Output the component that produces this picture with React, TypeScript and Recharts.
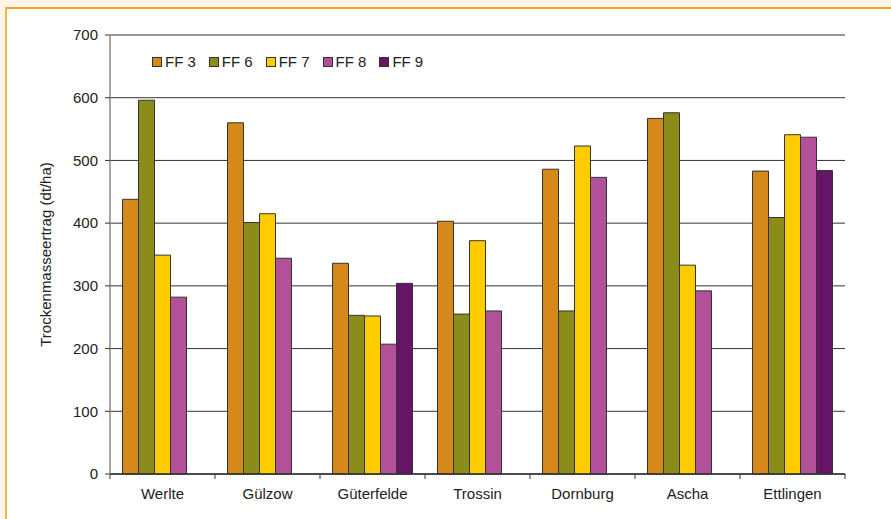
import React from "react";
import { BarChart, Bar, XAxis, YAxis, CartesianGrid, Legend } from "recharts";

const sites = ["Werlte", "Gülzow", "Güterfelde", "Trossin", "Dornburg", "Ascha", "Ettlingen"];
const ff3 = [438, 560, 336, 403, 486, 567, 483];
const ff6 = [596, 401, 253, 255, 260, 576, 409];
const ff7 = [349, 415, 252, 372, 523, 333, 541];
const ff8 = [282, 344, 207, 260, 473, 292, 537];
const ff9 = [null, null, 304, null, null, null, 484];
const yTicks = [0, 100, 200, 300, 400, 500, 600, 700];

const seriesNames = ["FF 3", "FF 6", "FF 7", "FF 8", "FF 9"];
const seriesKeys = ["ff3", "ff6", "ff7", "ff8", "ff9"];
const seriesColors = ["#D4891A", "#8C8C1A", "#FFCC00", "#B25099", "#661466"];

const data = sites.map((site, i) => ({
  site,
  ff3: ff3[i],
  ff6: ff6[i],
  ff7: ff7[i],
  ff8: ff8[i],
  ff9: ff9[i],
}));

const W = 891;
const H = 519;
const M = { top: 35, right: 46, bottom: 15, left: 0 };
const YW = 110;
const BAND = (W - YW - M.right) / sites.length;
const FONT = "'Liberation Sans', Arial, sans-serif";
const TXT = "#222";

const XTick = (props: any) => {
  const { x, y, payload, index } = props;
  return (
    <g>
      <line x1={x - BAND / 2} y1={y} x2={x - BAND / 2} y2={y + 5} stroke="#333" strokeWidth={1} />
      {index === sites.length - 1 && (
        <line x1={x + BAND / 2} y1={y} x2={x + BAND / 2} y2={y + 5} stroke="#333" strokeWidth={1} />
      )}
      <text x={x} y={y + 25} textAnchor="middle" fill={TXT} fontSize={15} fontFamily={FONT}>
        {payload.value}
      </text>
    </g>
  );
};

const LegendContent = (props: any) => {
  const payload = props.payload && props.payload.length
    ? props.payload
    : seriesNames.map((n, i) => ({ value: n, color: seriesColors[i] }));
  return (
    <div style={{ display: "flex", flexDirection: "row", fontFamily: FONT, fontSize: 15, color: TXT, lineHeight: "17px", whiteSpace: "nowrap" }}>
      {payload.map((p: any, i: number) => (
        <div key={i} style={{ display: "flex", alignItems: "center", marginRight: 13 }}>
          <span style={{ display: "inline-block", width: 8, height: 8, background: p.color, border: "1px solid #333", marginRight: 3 }} />
          <span>{p.value}</span>
        </div>
      ))}
    </div>
  );
};

const YLabel = (props: any) => {
  const vb = props.viewBox || { y: M.top, height: H - M.top - M.bottom - 30 };
  const cx = 45;
  const cy = vb.y + vb.height / 2;
  return (
    <text x={cx} y={cy} transform={`rotate(-90, ${cx}, ${cy})`} textAnchor="middle" dominantBaseline="central" fill={TXT} fontSize={15} fontFamily={FONT}>
      Trockenmasseertrag (dt/ha)
    </text>
  );
};

export default function App() {
  return (
    <div style={{ position: "absolute", left: 0, top: 0, width: W, height: H, background: "#FEF4E7", overflow: "hidden" }}>
      <div style={{ position: "absolute", left: 5, top: 7, width: W - 5, height: H - 7, background: "#fff", borderTop: "2px solid #F4A22A", borderLeft: "2px solid #F7B448", boxSizing: "border-box" }} />
      <div style={{ position: "absolute", left: 0, top: 0 }}>
        <BarChart width={W} height={H} data={data} margin={M} barCategoryGap={12.5} barGap={0}>
          <CartesianGrid vertical={false} stroke="#333" strokeWidth={1} />
          <XAxis
            dataKey="site"
            height={30}
            tickSize={0}
            tickMargin={0}
            tickLine={false}
            axisLine={{ stroke: "#333", strokeWidth: 1.5 }}
            tick={<XTick />}
            interval={0}
          />
          <YAxis
            width={YW}
            domain={[0, 700]}
            ticks={yTicks}
            interval={0}
            tickSize={5}
            tickMargin={7}
            axisLine={{ stroke: "#888", strokeWidth: 1.5 }}
            tickLine={{ stroke: "#333" }}
            tick={{ fill: TXT, fontSize: 15, fontFamily: FONT }}
            label={{ content: <YLabel /> }}
          />
          <YAxis
            yAxisId="right"
            orientation="right"
            width={0}
            tick={false}
            tickLine={false}
            axisLine={{ stroke: "#888", strokeWidth: 2.5 }}
          />
          <Legend
            layout="vertical"
            verticalAlign="middle"
            align="center"
            content={<LegendContent />}
            wrapperStyle={{ position: "absolute", top: 53, left: 152, width: "auto", height: "auto" }}
          />
          {seriesKeys.map((k, i) => (
            <Bar key={k} dataKey={k} name={seriesNames[i]} fill={seriesColors[i]} stroke="#333" strokeWidth={1} isAnimationActive={false} />
          ))}
        </BarChart>
      </div>
    </div>
  );
}
